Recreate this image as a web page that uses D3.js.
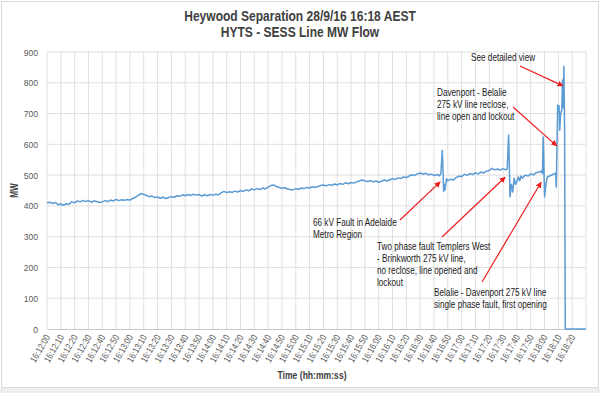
<!DOCTYPE html>
<html>
<head>
<meta charset="utf-8">
<script src="https://cdn.jsdelivr.net/npm/d3@7"></script>
<style>
  body { margin: 0; background: #fff; }
  svg text { font-family: "Liberation Sans", Arial, sans-serif; }
</style>
</head>
<body>
<svg id="chart" width="600" height="393"></svg>
<script>

// seconds after 16:12:00
var secs = [0, 2, 4, 6, 8, 10, 12, 14, 16, 18, 20, 22, 24, 26, 28, 30, 32, 34, 36, 38,
    40, 42, 44, 46, 48, 50, 52, 54, 56, 58, 60, 62, 64, 66, 68, 70, 72, 74, 76, 78,
    80, 82, 84, 86, 88, 90, 92, 94, 96, 98, 100, 102, 104, 106, 108, 110, 112, 114, 116, 118,
    120, 122, 124, 126, 128, 130, 132, 134, 136, 138, 140, 142, 144, 146, 148, 150, 152, 154, 156, 158,
    160, 162, 164, 166, 168, 170, 172, 174, 176, 178, 180, 182, 184, 186, 188, 190, 192, 194, 196, 198,
    200, 202, 204, 206, 208, 210, 212, 214, 216, 218, 220, 222, 224, 226, 228, 230, 232, 234, 236, 238,
    240, 242, 244, 246, 248, 250, 252, 254, 256, 258, 260, 262, 264, 266, 268, 270, 272, 274, 276, 278,
    280, 282, 284, 285, 286, 286.5, 287, 287.5, 288, 289, 290, 292, 294, 296, 298,
    300, 302, 304, 306, 308, 310, 312, 314, 316, 318, 320, 322, 324, 326, 328, 330, 332, 333,
    334, 334.5, 335, 336, 337, 338, 339, 340, 341, 342, 343, 344, 346, 348, 350, 352, 354, 356, 357.5,
    358.5, 359, 359.5, 360, 361, 362, 364, 366, 368, 368.5, 369.5, 370, 370.5, 371, 371.5, 372, 372.5,
    373, 373.5, 374, 374.5, 375, 390];

// HYTS - SESS flow (MW)
var flowMW = [410, 412, 408, 411, 404, 406, 402, 407, 405, 414, 410, 416, 413, 418, 414, 417, 412, 416, 414, 411,
    413, 417, 414, 419, 416, 421, 417, 420, 418, 421, 419, 424, 428, 434, 440, 437, 434, 430, 432, 427,
    429, 425, 428, 424, 427, 430, 428, 433, 431, 436, 433, 437, 434, 438, 435, 437, 432, 436, 433, 437,
    435, 438, 436, 442, 447, 443, 446, 444, 448, 445, 450, 447, 452, 449, 455, 452, 456, 453, 458, 455,
    461, 466, 468, 463, 460, 457, 459, 455, 453, 452, 456, 454, 458, 456, 460, 458, 462, 460, 463, 466,
    468, 465, 469, 467, 471, 468, 473, 470, 475, 472, 476, 474, 478, 481, 484, 481, 479, 482, 478, 481,
    477, 480, 484, 481, 485, 488, 486, 491, 489, 494, 492, 497, 501, 499, 504, 507, 503, 506, 501, 503,
    499, 502, 498, 505, 580, 520, 447, 470, 452, 488, 481, 487, 484, 492, 497,
    495, 503, 499, 505, 502, 507, 504, 510, 507, 513, 515, 522, 517, 520, 516, 521, 517, 520,
    630, 540, 429, 470, 445, 490, 470, 478, 494, 482, 497, 490, 500, 497, 504, 501, 508, 510, 513,
    505, 624, 540, 429, 470, 494, 498, 502, 506, 461, 728, 712, 725, 646, 690, 706, 711,
    809, 720, 854, 656, 0, 0];

var yTicks = [0, 100, 200, 300, 400, 500, 600, 700, 800, 900];
var xTickLabels = ["16:12:00", "16:12:10", "16:12:20", "16:12:30", "16:12:40", "16:12:50",
    "16:13:00", "16:13:10", "16:13:20", "16:13:30", "16:13:40", "16:13:50",
    "16:14:00", "16:14:10", "16:14:20", "16:14:30", "16:14:40", "16:14:50",
    "16:15:00", "16:15:10", "16:15:20", "16:15:30", "16:15:40", "16:15:50",
    "16:16:00", "16:16:10", "16:16:20", "16:16:30", "16:16:40", "16:16:50",
    "16:17:00", "16:17:10", "16:17:20", "16:17:30", "16:17:40", "16:17:50",
    "16:18:00", "16:18:10", "16:18:20"];

// callouts: text lines, where the text sits, and the [t, MW] the arrow points to
var notes = [
    { lines: ["See detailed view"], tx: 471, ty: 61, from: [520, 66], to: [373.3, 790] },
    { lines: ["Davenport - Belalie", "275 kV line reclose,", "line open and lockout"], tx: 437, ty: 96, from: [513, 107], to: [368.8, 595] },
    { lines: ["66 kV Fault in Adelaide", "Metro Region"], tx: 313, ty: 226, from: [400, 220], to: [284.5, 478] },
    { lines: ["Two phase fault Templers West", "- Brinkworth 275 kV line,", "no reclose, line opened and", "lockout"], tx: 377, ty: 250, from: [442, 237], to: [331.5, 493] },
    { lines: ["Belalie - Davenport 275 kV line", "single phase fault, first opening"], tx: 434, ty: 296, from: [482, 282], to: [357.5, 477] }
];

var svg = d3.select("#chart");
var W = 600, H = 393;
var margin = { left: 47, right: 14, top: 52, bottom: 64 };
var NARROW = 0.82;   // the picture uses a narrow font, squeeze Arial-metric text to match

function narrowText(sel, px, py, k) {
    sel.attr("x", 0).attr("y", 0)
        .attr("transform", "translate(" + px + "," + py + ") scale(" + (k || NARROW) + ",1)");
    return sel;
}

// outer frame like the exported excel picture
svg.append("rect").attr("x", 0).attr("y", 388).attr("width", W).attr("height", H - 388).attr("fill", "#eeeeee");
svg.append("rect")
    .attr("x", 1.5).attr("y", 1.5)
    .attr("width", W - 3).attr("height", 386)
    .attr("fill", "#fff")
    .attr("stroke", "#d9d9d9");

var x = d3.scaleLinear().domain([0, 390]).range([margin.left, W - margin.right]);
var y = d3.scaleLinear().domain([0, 900]).range([H - margin.bottom, margin.top]);

// grid
var grid = svg.append("g").attr("class", "grid");
grid.selectAll("line.h")
    .data(yTicks.slice(1))
    .enter().append("line")
    .attr("class", "h")
    .attr("x1", x(0)).attr("x2", x(390))
    .attr("y1", d => y(d)).attr("y2", d => y(d))
    .attr("stroke", "#e0e0e0").attr("stroke-width", 1);

grid.selectAll("line.v")
    .data(d3.range(0, 391, 10))
    .enter().append("line")
    .attr("class", "v")
    .attr("x1", d => x(d)).attr("x2", d => x(d))
    .attr("y1", y(0)).attr("y2", y(900))
    .attr("stroke", "#e0e0e0").attr("stroke-width", 1);

// y axis
var yAxis = d3.axisLeft(y).tickValues(yTicks).tickSize(0).tickPadding(9);
var gy = svg.append("g").attr("transform", "translate(" + margin.left + ",0)").call(yAxis);
gy.select(".domain").remove();
gy.selectAll("text")
    .attr("fill", "#595959")
    .style("font-size", "9.5px")
    .each(function() {
        var t = d3.select(this);
        t.attr("transform", "translate(" + t.attr("x") + ",0) scale(0.9,1)").attr("x", 0);
    });

// x axis
var xAxis = d3.axisBottom(x)
    .tickValues(xTickLabels.map((d, i) => i * 10))
    .tickFormat((d, i) => xTickLabels[i])
    .tickSize(0);
var gx = svg.append("g").attr("transform", "translate(0," + y(0) + ")").call(xAxis);
gx.select(".domain").attr("stroke", "#c8c8c8");
gx.selectAll("text")
    .attr("fill", "#595959")
    .style("font-size", "9.5px")
    .attr("text-anchor", "end")
    .attr("dy", null)
    .attr("y", 0)
    .attr("transform", "translate(3,8) rotate(-60) scale(" + NARROW + ",1)");

// axis titles
svg.append("text")
    .attr("transform", "translate(18," + (y(450)) + ") rotate(-90) scale(" + NARROW + ",1)")
    .attr("text-anchor", "middle")
    .attr("font-weight", "bold")
    .attr("font-size", "10px")
    .attr("fill", "#404040")
    .text("MW");

narrowText(svg.append("text"), 312, 379, 0.86)
    .attr("text-anchor", "middle")
    .attr("font-weight", "bold")
    .attr("font-size", "10px")
    .attr("fill", "#404040")
    .text("Time (hh:mm:ss)");

// title
narrowText(svg.append("text"), 300, 21, 0.86)
    .attr("text-anchor", "middle")
    .attr("font-weight", "bold")
    .attr("font-size", "14px")
    .attr("fill", "#404040")
    .text("Heywood Separation 28/9/16 16:18 AEST");
narrowText(svg.append("text"), 300, 37, 0.86)
    .attr("text-anchor", "middle")
    .attr("font-weight", "bold")
    .attr("font-size", "14px")
    .attr("fill", "#404040")
    .text("HYTS - SESS Line MW Flow");

// the flow line
var line = d3.line()
    .x((d, i) => x(secs[i]))
    .y(d => y(d));

svg.append("path")
    .datum(flowMW)
    .attr("d", line)
    .attr("fill", "none")
    .attr("stroke", "#5b9bd5")
    .attr("stroke-width", 1.5)
    .attr("stroke-linejoin", "round");

// red arrows + notes
svg.append("defs").append("marker")
    .attr("id", "arrowhead")
    .attr("viewBox", "0 0 10 10")
    .attr("refX", 9).attr("refY", 5)
    .attr("markerWidth", 5).attr("markerHeight", 5)
    .attr("orient", "auto")
    .append("path")
    .attr("d", "M0,0 L10,5 L0,10 z")
    .attr("fill", "#ee1c1c");

var noteG = svg.append("g").attr("class", "notes");
notes.forEach(n => {
    noteG.append("line")
        .attr("x1", n.from[0]).attr("y1", n.from[1])
        .attr("x2", x(n.to[0])).attr("y2", y(n.to[1]))
        .attr("stroke", "#ee1c1c")
        .attr("stroke-width", 1.2)
        .attr("marker-end", "url(#arrowhead)");

    var t = narrowText(noteG.append("text"), n.tx, n.ty)
        .attr("font-size", "10px")
        .attr("fill", "#1a1a1a");
    n.lines.forEach((l, i) => {
        t.append("tspan").attr("x", 0).attr("y", i * 12).text(l);
    });
});
</script>
</body>
</html>
